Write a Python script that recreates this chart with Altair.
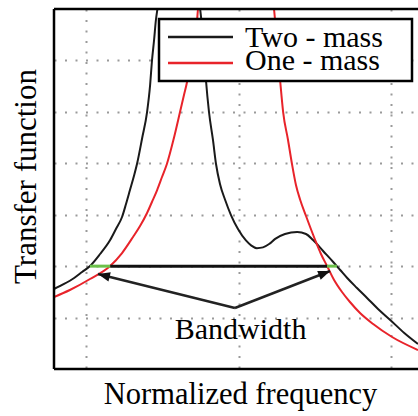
import altair as alt
import numpy as np
import pandas as pd

# --- plot geometry -------------------------------------------------------
W, H = 364, 360
FREQ_DOMAIN = [0.395, 1.588]
AMP_DOMAIN = [0.0, 7.0]
FREQ_GRID = [0.5, 1.0, 1.5]
AMP_GRID = [1, 2, 3, 4, 5, 6]

# --- transfer function curves --------------------------------------------
two_mass_f = [0.395, 0.428, 0.461, 0.487, 0.513, 0.546, 0.579, 0.598, 0.618,
              0.631, 0.644, 0.657, 0.667, 0.684, 0.700, 0.710, 0.716, 0.723,
              0.729, 0.734, 0.802, 0.874, 0.884, 0.893, 0.903, 0.916, 0.926,
              0.939, 0.956, 0.975, 0.998, 1.024, 1.042, 1.060, 1.080, 1.100,
              1.120, 1.152, 1.192, 1.221, 1.244, 1.277, 1.310, 1.333, 1.356,
              1.388, 1.421, 1.457, 1.497, 1.543, 1.588]
two_mass_h = [1.556, 1.653, 1.769, 1.886, 2.003, 2.236, 2.508, 2.722, 2.955,
              3.208, 3.480, 3.753, 3.986, 4.492, 4.997, 5.522, 5.989, 6.397,
              6.786, 7.000, 9.000, 7.000, 6.397, 5.619, 4.997, 4.453, 3.986,
              3.597, 3.286, 2.994, 2.722, 2.500, 2.400, 2.350, 2.365, 2.430,
              2.530, 2.625, 2.664, 2.625, 2.508, 2.294, 2.081, 1.925, 1.769,
              1.575, 1.381, 1.167, 0.953, 0.700, 0.486]

one_mass_f = [0.395, 0.447, 0.513, 0.579, 0.618, 0.654, 0.677, 0.700, 0.716,
              0.733, 0.749, 0.765, 0.788, 0.808, 0.821, 0.831, 0.847, 0.864,
              0.867, 0.992, 1.116, 1.126, 1.136, 1.146, 1.162, 1.175, 1.188,
              1.202, 1.221, 1.251, 1.270, 1.290, 1.313, 1.339, 1.365, 1.398,
              1.441, 1.503, 1.588]
one_mass_h = [1.400, 1.536, 1.750, 2.003, 2.255, 2.567, 2.780, 3.033, 3.247,
              3.480, 3.733, 3.986, 4.492, 4.997, 5.328, 5.580, 6.203, 6.786,
              7.000, 10.00, 7.000, 6.300, 5.619, 4.997, 4.453, 3.986, 3.578,
              3.286, 2.975, 2.508, 2.236, 2.003, 1.731, 1.497, 1.303, 1.089,
              0.875, 0.622, 0.369]

series_names = ["Two - mass", "One - mass"]
series_colors = ["#1a1a1a", "#e8232a"]

# --- bandwidth annotation ------------------------------------------------
band_level = 2.0
one_mass_band = [0.579, 1.290]
two_mass_band = [0.513, 1.322]
arrow_origin = [0.988, 1.186]
arrow_tips_f = [0.539, 1.300]
arrow_tips_h = [1.847, 1.905]
band_label = "Bandwidth"
band_label_pos = [1.0066, 0.583]

# --- data tables -----------------------------------------------------------
curves = pd.concat([
    pd.DataFrame({"f": two_mass_f, "h": two_mass_h, "s": series_names[0]}),
    pd.DataFrame({"f": one_mass_f, "h": one_mass_h, "s": series_names[1]}),
])

band_line = pd.DataFrame({"f": [one_mass_band[0]], "f2": [one_mass_band[1]],
                          "h": [band_level]})
band_ends = pd.DataFrame({"f": [two_mass_band[0], one_mass_band[1]],
                          "f2": [one_mass_band[0], two_mass_band[1]],
                          "h": [band_level, band_level]})

px_f = W / (FREQ_DOMAIN[1] - FREQ_DOMAIN[0])
px_h = H / (AMP_DOMAIN[1] - AMP_DOMAIN[0])
dx = (np.array(arrow_tips_f) - arrow_origin[0]) * px_f
dy = -(np.array(arrow_tips_h) - arrow_origin[1]) * px_h
arrows = pd.DataFrame({
    "f": arrow_origin[0], "h": arrow_origin[1],
    "f2": arrow_tips_f, "h2": arrow_tips_h,
    "ang": np.degrees(np.arctan2(dx, -dy)) % 360,
})
label_df = pd.DataFrame({"f": [band_label_pos[0]], "h": [band_label_pos[1]],
                         "t": [band_label]})
one = pd.DataFrame({"k": [0]})

SERIF = "serif"

x_axis = alt.Axis(values=FREQ_GRID, grid=True, labels=False, ticks=False,
                  domain=False, title="Normalized frequency",
                  titleX=186, titleY=34, titleAlign="center",
                  titleBaseline="alphabetic", titleFontSize=30.5)
y_axis = alt.Axis(values=AMP_GRID, grid=True, labels=False, ticks=False,
                  domain=False, title="Transfer function",
                  titleAngle=270, titleX=-19, titleY=167,
                  titleAlign="center", titleBaseline="alphabetic",
                  titleFontSize=31)
x_scale = alt.Scale(domain=FREQ_DOMAIN, nice=False, zero=False)
y_scale = alt.Scale(domain=AMP_DOMAIN, nice=False, zero=False)


def X(field):
    return alt.X(field, type="quantitative", scale=x_scale, axis=x_axis)


def Y(field):
    return alt.Y(field, type="quantitative", scale=y_scale, axis=y_axis)


lines = alt.Chart(curves).mark_line(clip=True, strokeWidth=2,
                                    interpolate="monotone").encode(
    x=X("f"), y=Y("h"),
    color=alt.Color("s:N", scale=alt.Scale(domain=series_names,
                                           range=series_colors), legend=None),
    order=alt.Order("f:Q"),
)

band = alt.Chart(band_line).mark_rule(color="#111111", strokeWidth=3).encode(
    x=X("f"), x2="f2", y=Y("h"))
ends = alt.Chart(band_ends).mark_rule(color="#6cc24a", strokeWidth=3).encode(
    x=X("f"), x2="f2", y=Y("h"))

arrow_lines = alt.Chart(arrows).mark_rule(color="#222222", strokeWidth=2.5).encode(
    x=X("f"), y=Y("h"), x2="f2", y2="h2")
arrow_heads = alt.Chart(arrows).mark_point(
    shape="M0,0 L0.4,1 L-0.4,1 Z", filled=True, size=576, opacity=1,
    color="#111111").encode(
    x=X("f2"), y=Y("h2"), angle=alt.Angle("ang:Q", scale=None))

label = alt.Chart(label_df).mark_text(font=SERIF, fontSize=30, color="black",
                                      align="center", baseline="alphabetic").encode(
    x=X("f"), y=Y("h"), text="t:N")

# legend
leg_box = alt.Chart(one).mark_rect(fill="white", stroke="black",
                                   strokeWidth=2.5).encode(
    x=alt.value(105), x2=alt.value(358), y=alt.value(10), y2=alt.value(72))
leg_black = alt.Chart(one).mark_rule(color=series_colors[0], strokeWidth=2.5).encode(
    x=alt.value(114), x2=alt.value(179), y=alt.value(28))
leg_red = alt.Chart(one).mark_rule(color=series_colors[1], strokeWidth=2.5).encode(
    x=alt.value(114), x2=alt.value(179), y=alt.value(54))
leg_t1 = alt.Chart(one).mark_text(font=SERIF, fontSize=30, align="left",
                                  baseline="alphabetic", color="black",
                                  text=series_names[0]).encode(
    x=alt.value(191), y=alt.value(38))
leg_t2 = alt.Chart(one).mark_text(font=SERIF, fontSize=30, align="left",
                                  baseline="alphabetic", color="black",
                                  text=series_names[1]).encode(
    x=alt.value(191), y=alt.value(61))

# frame on left, top and bottom
frame_left = alt.Chart(one).mark_rule(color="black", strokeWidth=2.5).encode(
    x=alt.value(0), y=alt.value(0), y2=alt.value(H))
frame_top = alt.Chart(one).mark_rule(color="black", strokeWidth=2.5).encode(
    x=alt.value(0), x2=alt.value(W), y=alt.value(0))
frame_bottom = alt.Chart(one).mark_rule(color="black", strokeWidth=2.5).encode(
    x=alt.value(0), x2=alt.value(W), y=alt.value(H))

chart = alt.layer(
    lines, band, ends, arrow_lines, arrow_heads, label,
    leg_box, leg_black, leg_red, leg_t1, leg_t2,
    frame_left, frame_top, frame_bottom,
).properties(
    width=W, height=H,
    autosize=alt.AutoSizeParams(type="none"),
    padding={"left": 54, "top": 9, "right": 0, "bottom": 47},
    background="white",
).configure_view(stroke=None).configure_axis(
    titleFont=SERIF, titleFontWeight="normal",
    titleColor="black", gridColor="#9a9a9a", gridDash=[2, 8.5], gridWidth=2,
)

chart.save("out.html", embed_options={"renderer": "svg", "actions": False})
